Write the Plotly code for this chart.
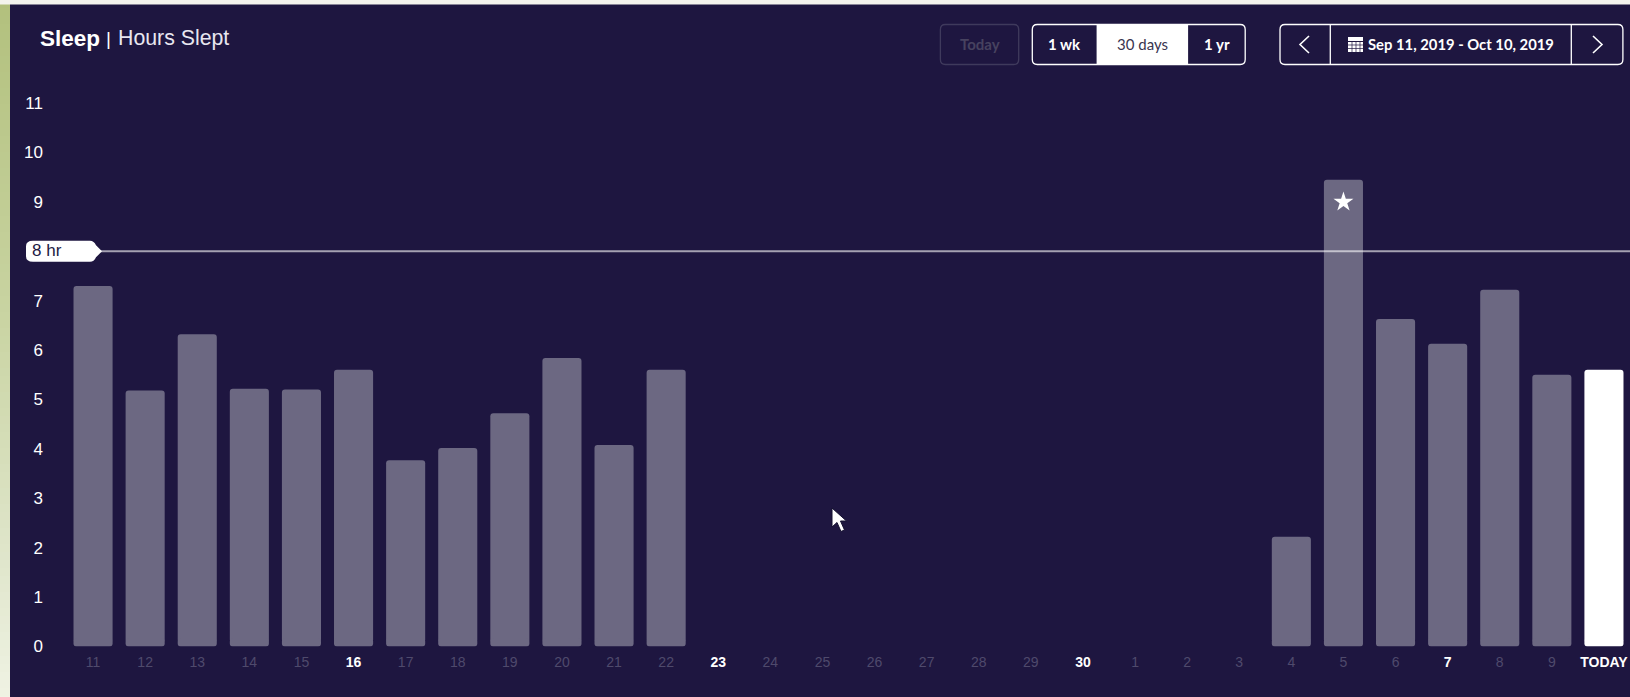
import plotly.graph_objects as go

days = [str(d) for d in range(11, 31)] + [str(d) for d in range(1, 10)] + ["TODAY"]
hours = [7.3, 5.18, 6.32, 5.22, 5.2, 5.6, 3.77, 4.02, 4.72, 5.84, 4.08, 5.6,
         None, None, None, None, None, None, None, None, None, None, None,
         2.22, 9.45, 6.63, 6.13, 7.22, 5.5, 5.6]
emphasised_days = ["16", "23", "30", "7", "TODAY"]
y_ticks = [0, 1, 2, 3, 4, 5, 6, 7, 9, 10, 11]
goal_hours = 8
star_day = "5"
star_hours = 9.0

W, H = 1630, 697
BG = "#1e1640"
BAR = "#6c6882"
DIM = "#4f4a6c"
PLOT_L, PLOT_B, PLOT_T = 67, 646.5, 5
PX_PER_HOUR = 49.4
FOOT = 0.16  # height (hours) of the piece that carries the rounded lower corners


def px(x):
    return x / W


def py(y):
    return 1 - y / H


def rect(x0, y0, x1, y1, **kw):
    return dict(type="rect", xref="paper", yref="paper", x0=px(x0), x1=px(x1),
                y0=py(y0), y1=py(y1), layer="above", **kw)


def poly(points, closed=False, **kw):
    d = "M " + " L ".join(f"{px(a):.5f},{py(b):.5f}" for a, b in points)
    return dict(type="path", xref="paper", yref="paper",
                path=d + (" Z" if closed else ""), layer="above", **kw)


def rrect(x0, y0, x1, y1, r, **kw):
    X = lambda v: f"{px(v):.5f}"
    Y = lambda v: f"{py(v):.5f}"
    d = (f"M {X(x0+r)},{Y(y0)} L {X(x1-r)},{Y(y0)} Q {X(x1)},{Y(y0)} {X(x1)},{Y(y0+r)} "
         f"L {X(x1)},{Y(y1-r)} Q {X(x1)},{Y(y1)} {X(x1-r)},{Y(y1)} "
         f"L {X(x0+r)},{Y(y1)} Q {X(x0)},{Y(y1)} {X(x0)},{Y(y1-r)} "
         f"L {X(x0)},{Y(y0+r)} Q {X(x0)},{Y(y0)} {X(x0+r)},{Y(y0)} Z")
    return dict(type="path", xref="paper", yref="paper", path=d, layer="above", **kw)


def label(x, y, text, size, color="white", family="Lato", anchor="center"):
    return dict(xref="paper", yref="paper", x=px(x), y=py(y), text=text, showarrow=False,
                xanchor=anchor, yanchor="middle", font=dict(size=size, color=color, family=family))


bar_colors = ["white" if d == "TODAY" else BAR for d in days]
body_base = [None if v is None else FOOT / 2 for v in hours]
body = [None if v is None else v - FOOT / 2 for v in hours]
foot_base = [None if v is None else FOOT for v in hours]
foot = [None if v is None else -FOOT for v in hours]

fig = go.Figure()
common = dict(x=days, width=0.75, hoverinfo="skip", showlegend=False)
rounded = dict(color=bar_colors, cornerradius=3, line_width=0)
fig.add_bar(y=body, base=body_base, marker=rounded, **common)
fig.add_bar(y=foot, base=foot_base, marker=rounded, **common)
fig.add_scatter(x=[star_day], y=[star_hours], mode="markers", hoverinfo="skip", showlegend=False,
                marker=dict(symbol="star", size=15, color="white", line_width=0))

shapes = []
# page edges
stops = [(0, (178, 192, 125)), (300, (200, 211, 160)), (560, (224, 230, 204)), (697, (240, 243, 228))]
for y in range(0, H, 8):
    for (a, ca), (b, cb) in zip(stops, stops[1:]):
        if a <= y < b:
            t = (y - a) / (b - a)
            c = tuple(round(p + (q - p) * t) for p, q in zip(ca, cb))
            shapes.append(rect(0, y, 10, H, fillcolor=f"rgb{c}", line_width=0))
shapes.append(rect(0, 0, W, 4.5, fillcolor="#f4f4ee", line_width=0))

# goal line and tag
shapes.append(dict(type="line", xref="paper", yref="y", x0=px(98), x1=1, y0=goal_hours, y1=goal_hours,
                   layer="above", line=dict(color="rgba(255,255,255,0.6)", width=2)))
gy = PLOT_B - goal_hours * PX_PER_HOUR
X = lambda v: f"{px(v):.5f}"
Y = lambda v: f"{py(v):.5f}"
shapes.append(dict(type="path", xref="paper", yref="paper", layer="above", fillcolor="white", line_width=0,
                   path=(f"M {X(33)},{Y(gy-10.5)} L {X(90)},{Y(gy-10.5)} Q {X(94)},{Y(gy-10.5)} {X(96)},{Y(gy-6)} "
                         f"L {X(102)},{Y(gy)} L {X(96)},{Y(gy+6)} Q {X(94)},{Y(gy+10.5)} {X(90)},{Y(gy+10.5)} "
                         f"L {X(33)},{Y(gy+10.5)} Q {X(26)},{Y(gy+10.5)} {X(26)},{Y(gy+5)} "
                         f"L {X(26)},{Y(gy-5)} Q {X(26)},{Y(gy-10.5)} {X(33)},{Y(gy-10.5)} Z")))

# buttons
shapes.append(rrect(940.4, 24.5, 1018.7, 64.5, 5, line=dict(color="#3f3a5c", width=1.3)))
shapes.append(rect(1096.6, 25, 1188.1, 64, fillcolor="white", line_width=0))
shapes.append(rrect(1032.3, 24.5, 1245.2, 64.5, 5, line=dict(color="white", width=1.3)))
shapes.append(rrect(1280, 24.5, 1622.9, 64.5, 5, line=dict(color="white", width=1.3)))
for xv in (1330.3, 1571.3):
    shapes.append(poly([(xv, 24.5), (xv, 64.5)], line=dict(color="white", width=1.3)))
shapes.append(poly([(1309, 36), (1300, 44.5), (1309, 53)], line=dict(color="white", width=1.6)))
shapes.append(poly([(1593, 36), (1602, 44.5), (1593, 53)], line=dict(color="white", width=1.6)))
# calendar icon
shapes.append(rect(1348, 37, 1363, 52, fillcolor="white", line_width=0))
shapes.append(poly([(1348, 41.5), (1363, 41.5)], line=dict(color=BG, width=1)))
for yv in (45, 48.5):
    shapes.append(poly([(1348, yv), (1363, yv)], line=dict(color=BG, width=0.7)))
for xv in (1352, 1356, 1360):
    shapes.append(poly([(xv, 42), (xv, 52)], line=dict(color=BG, width=0.7)))
# pointer
shapes.append(poly([(832, 508), (832, 527), (837, 522.5), (841, 531.5), (844.5, 530), (840.5, 521), (846.5, 521)],
                   closed=True, fillcolor="white", line=dict(color="#141030", width=1)))

annotations = [
    label(37.5, 38, "<b>Sleep</b>", 22.5, family="Liberation Sans", anchor="left"),
    label(108, 39, "|", 19, family="Liberation Sans"),
    label(115.5, 38.5, "Hours Slept", 21.3, color="#e8e6f0", family="Liberation Sans", anchor="left"),
    label(979.5, 44, "<b>Today</b>", 15, color="#47425f"),
    label(1064.5, 44, "<b>1 wk</b>", 15),
    label(1142.4, 44, "30 days", 15, color="#3a3550"),
    label(1216.5, 44, "<b>1 yr</b>", 15),
    label(1461, 44, "<b>Sep 11, 2019 - Oct 10, 2019</b>", 14.8),
    label(47, gy - 0.5, "8 hr", 17, color="#221a44", family="Liberation Sans"),
]

x_text = [f"<b>{d}</b>" if d in emphasised_days else f'<span style="color:{DIM}">{d}</span>' for d in days]

fig.update_layout(
    width=W, height=H, autosize=False,
    margin=dict(l=0, r=0, t=0, b=0),
    paper_bgcolor=BG, plot_bgcolor=BG,
    barmode="overlay", showlegend=False,
    shapes=shapes, annotations=annotations,
    xaxis=dict(type="category", categoryorder="array", categoryarray=days, domain=[px(PLOT_L), 1],
               range=[-0.5, 29.5], tickmode="array", tickvals=days, ticktext=x_text, tickangle=0,
               automargin=False,
               showgrid=False, zeroline=False, showline=False, ticks="", ticklabelstandoff=5,
               tickfont=dict(size=14, color="white", family="Liberation Sans"), fixedrange=True),
    yaxis=dict(domain=[py(PLOT_B), py(PLOT_T)], range=[0, (PLOT_B - PLOT_T) / PX_PER_HOUR],
               tickmode="array", tickvals=y_ticks, showgrid=False, zeroline=False, showline=False,
               ticks="", ticklabelstandoff=23, automargin=False,
               tickfont=dict(size=17, color="white", family="Liberation Sans"), fixedrange=True),
)

fig.write_html("out.html", config=dict(displayModeBar=False),
               post_script="document.body.style.margin='0';document.body.style.overflow='hidden';"
                           f"document.body.style.background='{BG}';")
